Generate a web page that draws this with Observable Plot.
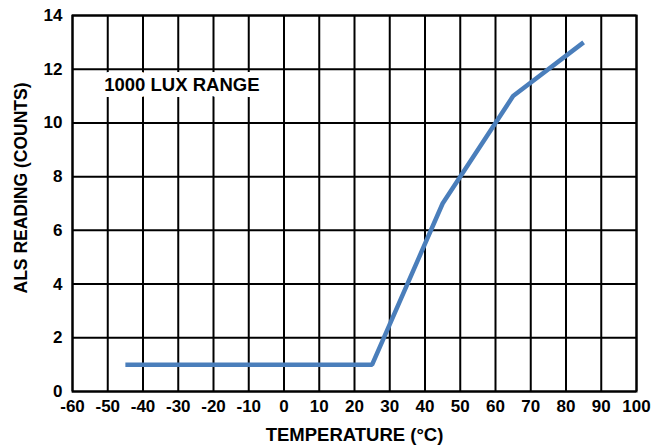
<!DOCTYPE html>
<html>
<head>
<meta charset="utf-8">
<script src="https://cdn.jsdelivr.net/npm/d3@7"></script>
<script src="https://cdn.jsdelivr.net/npm/@observablehq/plot@0.6"></script>
<style>
  html, body { margin: 0; padding: 0; background: #fff; }
  #chart svg { display: block; }
</style>
</head>
<body>
<div id="chart"></div>
<script>
// Data
const temperatures = [-45, 25, 45, 65, 85];
const readings = [1, 1, 7, 11, 13];
const xTicks = [-60, -50, -40, -30, -20, -10, 0, 10, 20, 30, 40, 50, 60, 70, 80, 90, 100];
const yTicks = [0, 2, 4, 6, 8, 10, 12, 14];
const noteLabels = ["1000 LUX RANGE"];
const noteTemps = [-51];
const noteReadings = [11.4];
const xTitle = "TEMPERATURE (°C)";
const yTitle = "ALS READING (COUNTS)";

const series = temperatures.map((t, i) => ({ t, v: readings[i] }));
const notes = noteLabels.map((s, i) => ({ s, t: noteTemps[i], v: noteReadings[i] }));

const font = "'Liberation Sans', Arial, Helvetica, sans-serif";
const fmt = d => String(d); // plain hyphen minus like the reference

const chart = Plot.plot({
  width: 654,
  height: 447,
  marginLeft: 72,
  marginRight: 18,
  marginTop: 15,
  marginBottom: 56,
  style: { fontFamily: font, fontWeight: "bold", color: "#000", background: "#fff", overflow: "visible" },
  x: { domain: [-60, 100], ticks: xTicks },
  y: { domain: [0, 14], ticks: yTicks },
  marks: [
    Plot.gridX(xTicks, { stroke: "#000", strokeOpacity: 1, strokeWidth: 2 }),
    Plot.gridY(yTicks, { stroke: "#000", strokeOpacity: 1, strokeWidth: 2 }),
    Plot.frame({ stroke: "#000", strokeWidth: 2 }),
    Plot.axisX(xTicks, { tickSize: 0, tickPadding: 8, fontSize: 17, label: null, fill: "#000", tickFormat: fmt }),
    Plot.axisY(yTicks, { tickSize: 0, tickPadding: 10, fontSize: 17, label: null, fill: "#000", tickFormat: fmt }),
    Plot.text(notes, { x: "t", y: "v", text: "s", textAnchor: "start", fontSize: 18.5, fontWeight: "bold", fill: "#000", stroke: "#fff", strokeWidth: 12 }),
    Plot.line(series, { x: "t", y: "v", stroke: "#4a7ebb", strokeWidth: 4.5, strokeLinecap: "butt", strokeLinejoin: "miter" }),
    Plot.text([xTitle], { frameAnchor: "bottom", textAnchor: "middle", dy: 49, fontSize: 18.5, fontWeight: "bold", fill: "#000" }),
    Plot.text([yTitle], { frameAnchor: "left", textAnchor: "middle", rotate: -90, dx: -51, dy: -15.5, fontSize: 17.5, fontWeight: "bold", fill: "#000" })
  ]
});

document.getElementById("chart").appendChild(chart);
</script>
</body>
</html>
